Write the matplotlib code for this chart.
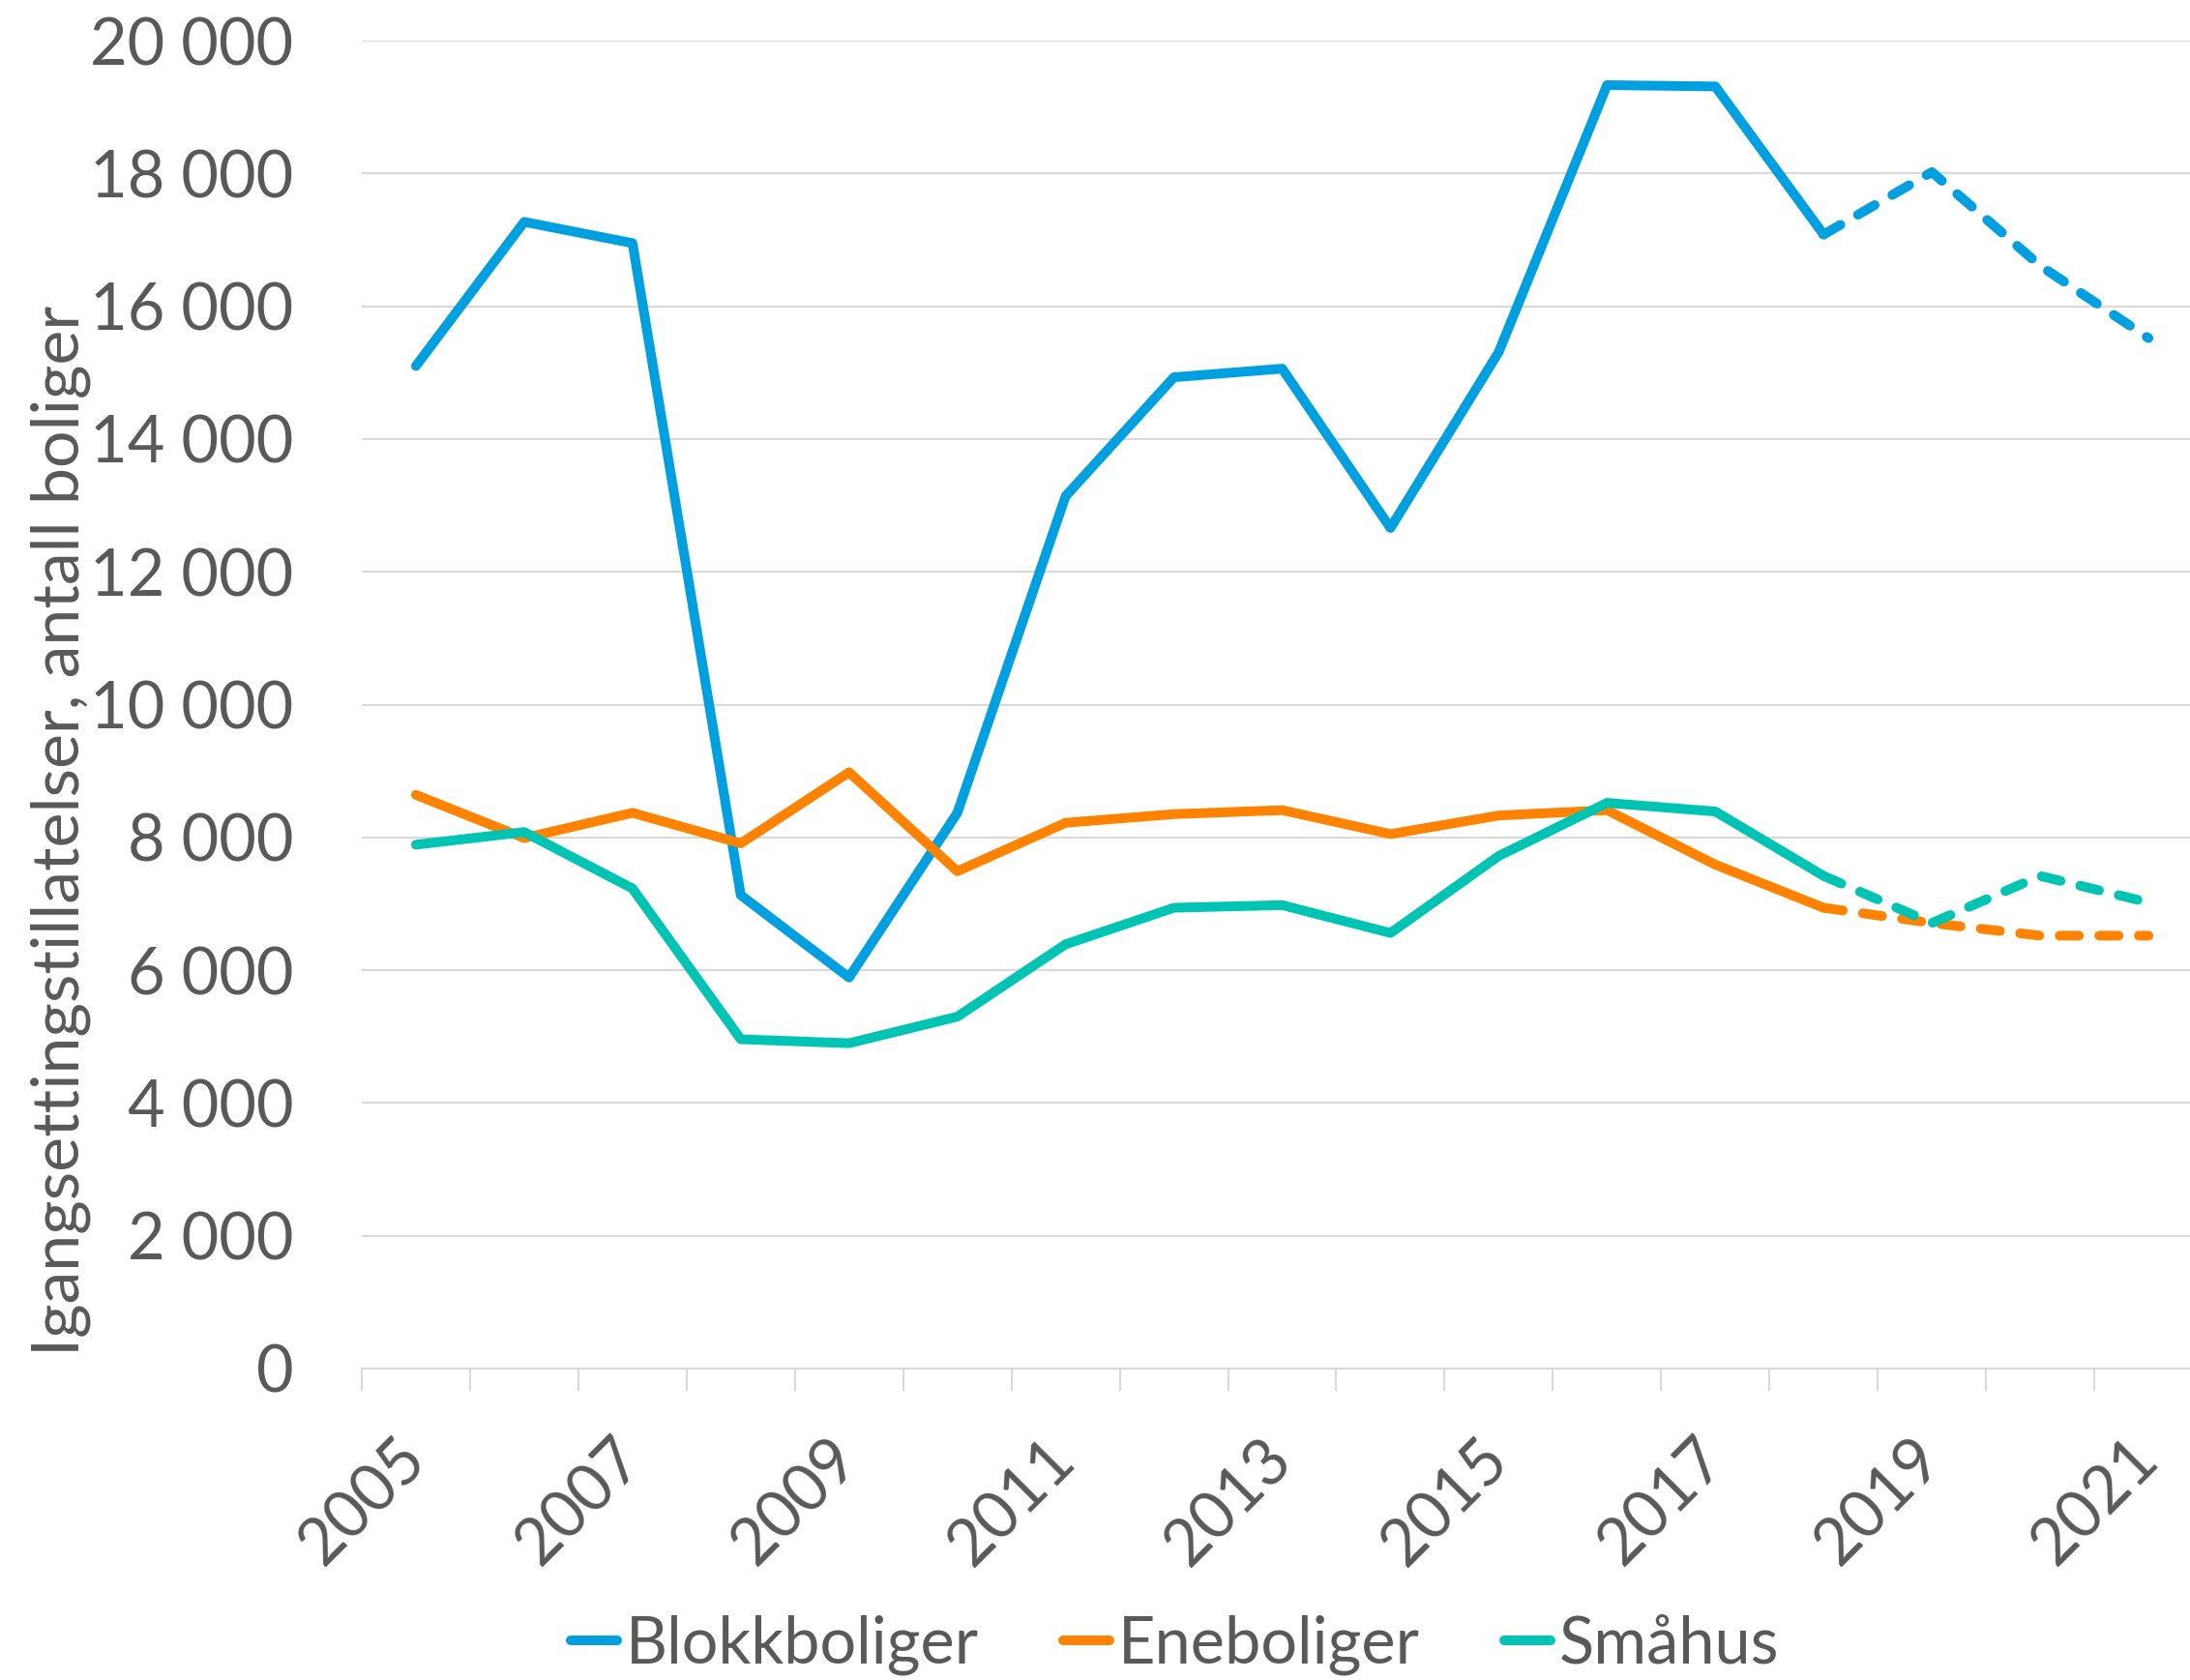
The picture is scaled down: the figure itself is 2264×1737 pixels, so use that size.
import matplotlib
matplotlib.use("Agg")
import matplotlib.pyplot as plt
from matplotlib.lines import Line2D
from matplotlib.ticker import FuncFormatter, MultipleLocator, FixedLocator
import numpy as np

plt.rcParams['font.family'] = ['Lato', 'DejaVu Sans']
plt.rcParams['lines.scale_dashes'] = False

years = list(range(2005, 2022))
blokkboliger = [15100, 17270, 16950, 7130, 5890, 8370, 13140, 14930, 15060, 12660,
                15310, 19330, 19310, 17080, 18020, 16610, 15520]
eneboliger = [8640, 7990, 8370, 7910, 8980, 7490, 8220, 8350, 8410, 8050,
              8330, 8410, 7590, 6940, 6710, 6520, 6520]
smaahus = [7890, 8080, 7230, 4960, 4900, 5300, 6390, 6940, 6980, 6560,
           7720, 8520, 8390, 7420, 6710, 7420, 7020]
series_names = ["Blokkboliger", "Eneboliger", "Småhus"]
colors = ["#009FDF", "#FF8200", "#00C4B3"]
forecast_start = 2018

TXT = "#595959"
GRID = "#D9D9D9"
FS = 48

W, H = 2264, 1737
fig = plt.figure(figsize=(W / 100, H / 100), dpi=100)
ax = fig.add_axes([374 / W, 322 / H, (2277 - 374) / W, (1415 - 42) / H])

x = np.arange(len(years))
split = years.index(forecast_start)
lw = 7.2
for vals, col in zip([blokkboliger, eneboliger, smaahus], colors):
    v = np.array(vals, dtype=float)
    ax.plot(x[:split + 1], v[:split + 1], color=col, lw=lw,
            solid_capstyle='round', solid_joinstyle='round', zorder=3)
    ax.plot(x[split:], v[split:], color=col, lw=lw, linestyle=(0, (14.4, 15.1)),
            dash_capstyle='round', dash_joinstyle='round', zorder=3)

ax.set_xlim(-0.5, len(years) - 0.5)
ax.set_ylim(0, 20000)
ax.yaxis.set_major_locator(MultipleLocator(2000))
ax.yaxis.set_major_formatter(FuncFormatter(lambda v, p: f"{int(v):,}".replace(",", " ")))
ax.grid(axis='y', color=GRID, lw=1.5, zorder=0)
ax.set_axisbelow(True)

for s in ['top', 'right', 'left']:
    ax.spines[s].set_visible(False)
ax.spines['bottom'].set_color(GRID)
ax.spines['bottom'].set_linewidth(1.5)

ax.set_xticks(x)
ax.set_xticklabels([str(y) if (y - years[0]) % 2 == 0 else "" for y in years],
                   rotation=45, ha='right', va='center', rotation_mode='anchor')
ax.xaxis.set_minor_locator(FixedLocator(np.arange(-0.5, len(years), 1.0)))
ax.tick_params(axis='x', which='major', length=0, pad=60, labelsize=FS, labelcolor=TXT)
ax.tick_params(axis='x', which='minor', length=16.5, width=1.5, color=GRID)
ax.tick_params(axis='y', length=0, pad=51, labelsize=FS, labelcolor=TXT)

fig.text(63 / W, 1 - 859 / H, "Igangsettingstillatelser, antall boliger",
         rotation=90, ha='center', va='center', fontsize=FS + 1, color=TXT)

handles = [Line2D([0], [0], color=c, lw=lw, solid_capstyle='round') for c in colors]
leg = fig.legend(handles, series_names, loc='center', bbox_to_anchor=(0.5365, 1 - 1701 / H),
                 ncol=3, frameon=False, fontsize=FS, handlelength=0.72,
                 handletextpad=0.14, columnspacing=1.3, borderpad=0, borderaxespad=0)
for t in leg.get_texts():
    t.set_color(TXT)

fig.savefig("out.png", dpi=100)
